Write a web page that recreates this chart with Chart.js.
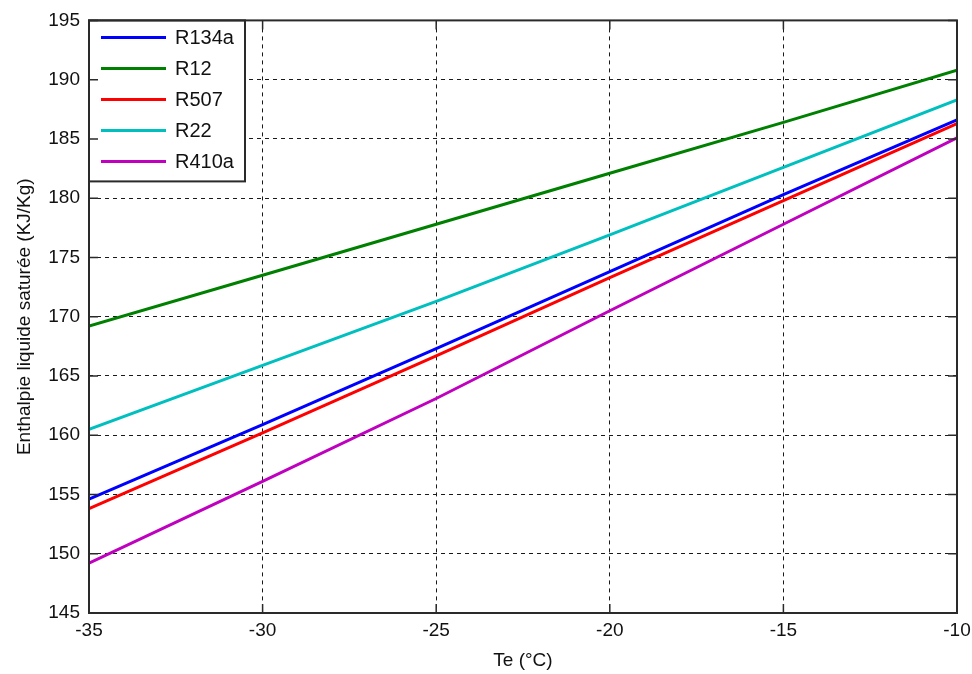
<!DOCTYPE html>
<html>
<head>
<meta charset="utf-8">
<script src="https://cdn.jsdelivr.net/npm/chart.js@4"></script>
<style>
  html, body { margin: 0; padding: 0; background: #fff; }
  #cadre { width: 972px; height: 674px; }
</style>
</head>
<body>
<div id="cadre"><canvas id="grafico"></canvas></div>
<script>
// Enthalpie du liquide saturé en fonction de la température d'évaporation
const temperatures = [-35, -30, -25, -20, -15, -10];
const fluides = ['R134a', 'R12', 'R507', 'R22', 'R410a'];
const hR134a = [154.6, 160.9, 167.3, 173.8, 180.3, 186.6];
const hR12   = [169.2, 173.5, 177.8, 182.1, 186.4, 190.8];
const hR507  = [153.8, 160.2, 166.7, 173.3, 179.8, 186.3];
const hR22   = [160.5, 165.9, 171.3, 176.9, 182.6, 188.3];
const hR410a = [149.2, 156.1, 163.1, 170.5, 177.8, 185.1];
const couleurs = ['#0000ff', '#008000', '#ff0000', '#00bfbf', '#bf00bf'];
const ticksX = [-35, -30, -25, -20, -15, -10];
const ticksY = [145, 150, 155, 160, 165, 170, 175, 180, 185, 190, 195];

const police = "'Liberation Sans', Arial, sans-serif";
const series = [hR134a, hR12, hR507, hR22, hR410a];

// cadre noir + graduations vers l'intérieur (style MATLAB)
const cadreAxes = {
    id: 'cadreAxes',
    afterDraw(chart) {
        const { ctx, chartArea: a, scales } = chart;
        const lg = 9;
        ctx.save();
        ctx.strokeStyle = '#2a2a2a';
        ctx.lineWidth = 1.5;
        ctx.beginPath();
        ticksX.forEach(v => {
            const x = scales.x.getPixelForValue(v);
            ctx.moveTo(x, a.bottom); ctx.lineTo(x, a.bottom - lg);
            ctx.moveTo(x, a.top); ctx.lineTo(x, a.top + lg);
        });
        ticksY.forEach(v => {
            const y = scales.y.getPixelForValue(v);
            ctx.moveTo(a.left, y); ctx.lineTo(a.left + lg, y);
            ctx.moveTo(a.right, y); ctx.lineTo(a.right - lg, y);
        });
        ctx.stroke();
        ctx.lineWidth = 2;
        ctx.strokeRect(a.left, a.top, a.right - a.left, a.bottom - a.top);
        ctx.restore();
    }
};

// légende encadrée en haut à gauche
const legendeCadre = {
    id: 'legendeCadre',
    afterDatasetsDraw(chart) {
        const { ctx, chartArea: a } = chart;
        ctx.save();
        ctx.fillStyle = '#fff';
        ctx.fillRect(a.left, a.top, 156, 161);
        ctx.strokeStyle = '#2a2a2a';
        ctx.lineWidth = 2;
        ctx.strokeRect(a.left, a.top, 156, 161);
        ctx.font = '20px ' + police;
        ctx.textBaseline = 'middle';
        chart.data.datasets.forEach((ds, i) => {
            const y = a.top + 17 + i * 31;
            ctx.strokeStyle = ds.borderColor;
            ctx.lineWidth = 3;
            ctx.beginPath();
            ctx.moveTo(a.left + 12, y);
            ctx.lineTo(a.left + 77, y);
            ctx.stroke();
            ctx.fillStyle = '#111';
            ctx.fillText(ds.label, a.left + 86, y + 1);
        });
        ctx.restore();
    }
};

const ctx = document.getElementById('grafico').getContext('2d');

new Chart(ctx, {
    type: 'line',
    data: {
        datasets: fluides.map((nom, i) => ({
            label: nom,
            data: temperatures.map((t, k) => ({ x: t, y: series[i][k] })),
            borderColor: couleurs[i],
            backgroundColor: couleurs[i],
            borderWidth: 3,
            pointRadius: 0,
            tension: 0,
            fill: false
        }))
    },
    options: {
        responsive: true,
        maintainAspectRatio: false,
        animation: false,
        layout: { padding: { top: 18, right: 15, left: 0, bottom: 0 } },
        scales: {
            x: {
                type: 'linear',
                min: -35,
                max: -10,
                afterBuildTicks: s => { s.ticks = ticksX.map(v => ({ value: v })); },
                afterFit: s => { s.height = 61; s.paddingRight = 0; s.paddingLeft = 0; },
                ticks: { color: '#111', padding: 6, font: { family: police, size: 19 } },
                grid: { color: '#1a1a1a', lineWidth: 1, drawTicks: false },
                border: { display: false, dash: [4, 4] },
                title: {
                    display: true,
                    text: 'Te (°C)',
                    color: '#111',
                    font: { family: police, size: 19 },
                    padding: { top: 0, bottom: 2 }
                }
            },
            y: {
                min: 145,
                max: 195,
                afterBuildTicks: s => { s.ticks = ticksY.map(v => ({ value: v })); },
                afterFit: s => { s.width = 89; },
                ticks: { color: '#111', padding: 9, font: { family: police, size: 19 } },
                grid: { color: '#1a1a1a', lineWidth: 1, drawTicks: false },
                border: { display: false, dash: [4, 4] },
                title: {
                    display: true,
                    text: 'Enthalpie liquide saturée (KJ/Kg)',
                    color: '#111',
                    font: { family: police, size: 19 },
                    padding: { top: 13, bottom: 0 }
                }
            }
        },
        plugins: {
            legend: { display: false },
            tooltip: { enabled: false }
        }
    },
    plugins: [legendeCadre, cadreAxes]
});
</script>
</body>
</html>
